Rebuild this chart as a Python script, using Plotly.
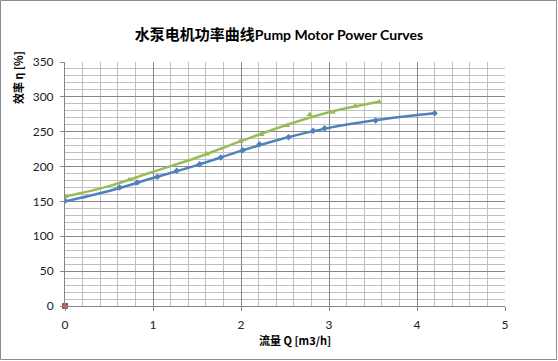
import plotly.graph_objects as go

blue_q = [0, 0.62, 0.82, 1.05, 1.27, 1.53, 1.77, 2.02, 2.21, 2.54, 2.82, 2.95, 3.53, 4.2]
blue_eta = [151, 170, 177, 185.5, 194, 203.5, 213, 223.5, 232, 242, 251.5, 255, 266, 276.5]
green_q = [0, 0.73, 1.61, 1.99, 2.23, 2.52, 2.78, 3.04, 3.3, 3.57]
green_eta = [157, 181, 218, 236, 246, 259, 274.5, 278, 287, 292.7]
red_q = [0]
red_eta = [0]

# Smoothed curves
blue_curve_q = [0, 0.5, 1, 1.5, 2, 2.5, 3, 3.5, 4, 4.2]
blue_curve_eta = [150, 165, 183.5, 202, 222.5, 241, 255.5, 266, 274, 276.5]
green_curve_q = [0, 0.5, 1, 1.5, 2, 2.5, 3, 3.57]
green_curve_eta = [157, 172, 192.5, 213, 236.5, 259, 278, 293]

x_ticks = [0, 1, 2, 3, 4, 5]
y_ticks = [0, 50, 100, 150, 200, 250, 300, 350]

W, H = 558, 361
ml, mr, mt, mb = 65, 53, 62, 55
pw = W - ml - mr
ph = H - mt - mb

BLUE, GREEN, RED = "#4F81BD", "#9BBB59", "#C0504D"

fig = go.Figure()
fig.add_trace(go.Scatter(x=blue_curve_q, y=blue_curve_eta, mode="lines",
                         line=dict(color=BLUE, width=2.5, shape="spline", smoothing=1.0),
                         showlegend=False, hoverinfo="skip"))
fig.add_trace(go.Scatter(x=green_curve_q, y=green_curve_eta, mode="lines",
                         line=dict(color=GREEN, width=2.5, shape="spline", smoothing=1.0),
                         showlegend=False, hoverinfo="skip"))
fig.add_trace(go.Scatter(x=blue_q, y=blue_eta, mode="markers",
                         marker=dict(symbol="diamond", size=5, color=BLUE),
                         showlegend=False))
fig.add_trace(go.Scatter(x=green_q, y=green_eta, mode="markers",
                         marker=dict(symbol="triangle-up", size=6, color=GREEN),
                         showlegend=False))
fig.add_trace(go.Scatter(x=red_q, y=red_eta, mode="markers",
                         marker=dict(symbol="square", size=6, color=RED),
                         showlegend=False, cliponaxis=False))

# chart-area border
fig.add_shape(type="rect", xref="paper", yref="paper",
              x0=(0.5 - ml) / pw, x1=(W - 1.5 - ml) / pw,
              y0=-(mb - 1.5) / ph, y1=1 + (mt - 0.5) / ph,
              line=dict(color="#8C8C8C", width=1), fillcolor="rgba(0,0,0,0)", layer="below")

# y-axis title placed near the top, like the reference
fig.add_annotation(text="<b>效率 η [%]</b>", xref="paper", yref="paper",
                   x=(18 - ml) / pw, y=1 - (78 - mt) / ph, showarrow=False, textangle=-90,
                   xanchor="center", yanchor="middle",
                   font=dict(family="Noto Sans CJK SC, sans-serif", size=11, color="#000"))
# x-axis title
fig.add_annotation(text="<b>流量 Q [m3/h]</b>", xref="paper", yref="paper",
                   x=(295 - ml) / pw, y=-(340 - mt - ph) / ph, showarrow=False,
                   xanchor="center", yanchor="middle",
                   font=dict(family="Noto Sans CJK SC, sans-serif", size=11, color="#000"))

tickfont = dict(family="Lato, Open Sans, sans-serif", size=12, color="#222")
fig.update_layout(
    width=W, height=H,
    margin=dict(l=ml, r=mr, t=mt, b=mb, autoexpand=False),
    paper_bgcolor="white", plot_bgcolor="white",
    title=dict(text="<b><span style='font-size:15px'>水泵电机功率曲线</span>"
                    "<span style='font-family:Lato'>Pump Motor Power Curves</span></b>",
               font=dict(family="Noto Sans CJK SC, Lato, sans-serif", size=14, color="#000"),
               x=0.5, xanchor="center", y=1 - 35 / H, yanchor="middle"),
    xaxis=dict(range=[0, 5], tickvals=x_ticks, ticktext=[str(v) for v in x_ticks],
               showgrid=True, gridcolor="#878787", gridwidth=1,
               minor=dict(dtick=0.2, showgrid=True, gridcolor="#C0C0C0", gridwidth=1),
               showline=True, linecolor="#868686", linewidth=1,
               ticks="outside", ticklen=4, tickcolor="#868686",
               ticklabelstandoff=4,
               zeroline=False, tickfont=tickfont, automargin=False),
    yaxis=dict(range=[0, 350], tickvals=y_ticks, ticktext=[str(v) for v in y_ticks],
               showgrid=True, gridcolor="#878787", gridwidth=1,
               minor=dict(dtick=10, showgrid=True, gridcolor="#C0C0C0", gridwidth=1),
               showline=True, linecolor="#868686", linewidth=1,
               ticks="outside", ticklen=4, tickcolor="#868686",
               ticklabelstandoff=4,
               zeroline=False, tickfont=tickfont, automargin=False),
)

fig.write_html("out.html", config={"displayModeBar": False},
               post_script="document.body.style.margin='0';document.body.style.overflow='hidden';")
